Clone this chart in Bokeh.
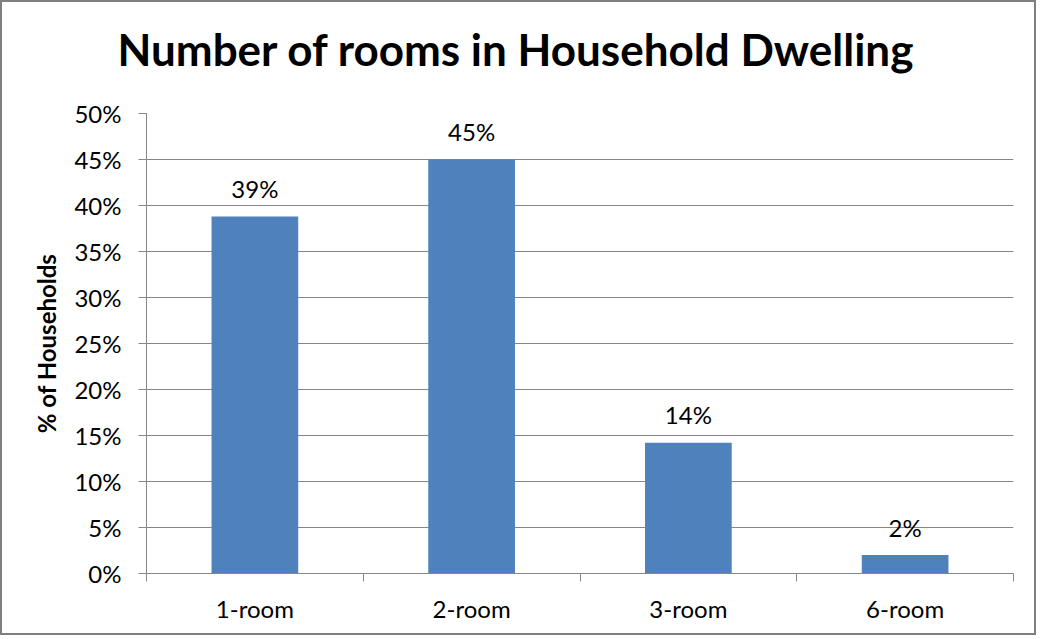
from bokeh.plotting import figure
from bokeh.models import ColumnDataSource, FixedTicker, PrintfTickFormatter, Title
from bokeh.core.properties import value
from bokeh.embed import file_html
from bokeh.resources import INLINE

title_text = "Number of rooms in Household Dwelling"
categories = ["1-room", "2-room", "3-room", "6-room"]
percent = [38.8, 45.0, 14.2, 2.0]
bar_labels = ["39%", "45%", "14%", "2%"]
y_ticks = [0, 5, 10, 15, 20, 25, 30, 35, 40, 45, 50]

x_centers = [i + 0.5 for i in range(len(categories))]
x_bounds = list(range(len(categories) + 1))
src = ColumnDataSource(dict(x=x_centers, top=percent, label=bar_labels))

FONT = "Lato"
GRAY = "#868686"

p = figure(width=1036, height=635, x_range=(0, len(categories)), y_range=(0, 50),
           output_backend="svg", toolbar_location=None,
           min_border_left=144, min_border_right=25, min_border_top=111, min_border_bottom=64)
p.styles = {"border": "2px solid #7f7f7f"}
p.outline_line_color = None
p.background_fill_color = "white"
p.border_fill_color = "white"

# spacer panel between the frame and the title
p.add_layout(Title(text=" ", text_font_size="1px", standoff=29), "above")

p.title.text = title_text
p.title.align = "left"
p.title.offset = -29
p.title.vertical_align = "top"
p.title.standoff = 10
p.title.text_font = FONT
p.title.text_font_size = "44px"
p.title.text_font_style = "bold"
p.title.text_color = "black"

p.vbar(x="x", top="top", width=0.4, bottom=0, source=src, fill_color="#4F81BD", line_color=None)
p.text(x="x", y="top", text="label", source=src, text_align="center", text_baseline="alphabetic",
       y_offset=-28, text_font=value(FONT), text_font_size="24px", text_color="black")

# axes
xa = p.xaxis[0]
xa.ticker = FixedTicker(ticks=x_centers, minor_ticks=x_bounds)
xa.major_label_overrides = {xc: c for xc, c in zip(x_centers, categories)}
xa.major_tick_out = 0
xa.major_tick_in = 0
xa.minor_tick_out = 8
xa.minor_tick_in = 0
xa.minor_tick_line_color = GRAY
xa.axis_line_color = GRAY
xa.major_label_text_font = FONT
xa.major_label_text_font_size = "24px"
xa.major_label_text_color = "black"
xa.major_label_standoff = 12

ya = p.yaxis[0]
ya.ticker = FixedTicker(ticks=y_ticks)
ya.formatter = PrintfTickFormatter(format="%d%%")
ya.major_tick_out = 8
ya.major_tick_in = 0
ya.minor_tick_out = 0
ya.minor_tick_in = 0
ya.major_tick_line_color = GRAY
ya.axis_line_color = GRAY
ya.major_label_text_font = FONT
ya.major_label_text_font_size = "24px"
ya.major_label_text_color = "black"
ya.major_label_standoff = 17
ya.axis_label = "% of Households"
ya.axis_label_text_font = FONT
ya.axis_label_text_font_size = "24px"
ya.axis_label_text_font_style = "bold"
ya.axis_label_text_color = "black"
ya.axis_label_standoff = 10

p.xgrid.visible = False
p.ygrid.ticker = FixedTicker(ticks=y_ticks)
p.ygrid.grid_line_color = GRAY
p.ygrid.grid_line_width = 1

open("out.html", "w").write(file_html(p, INLINE))
